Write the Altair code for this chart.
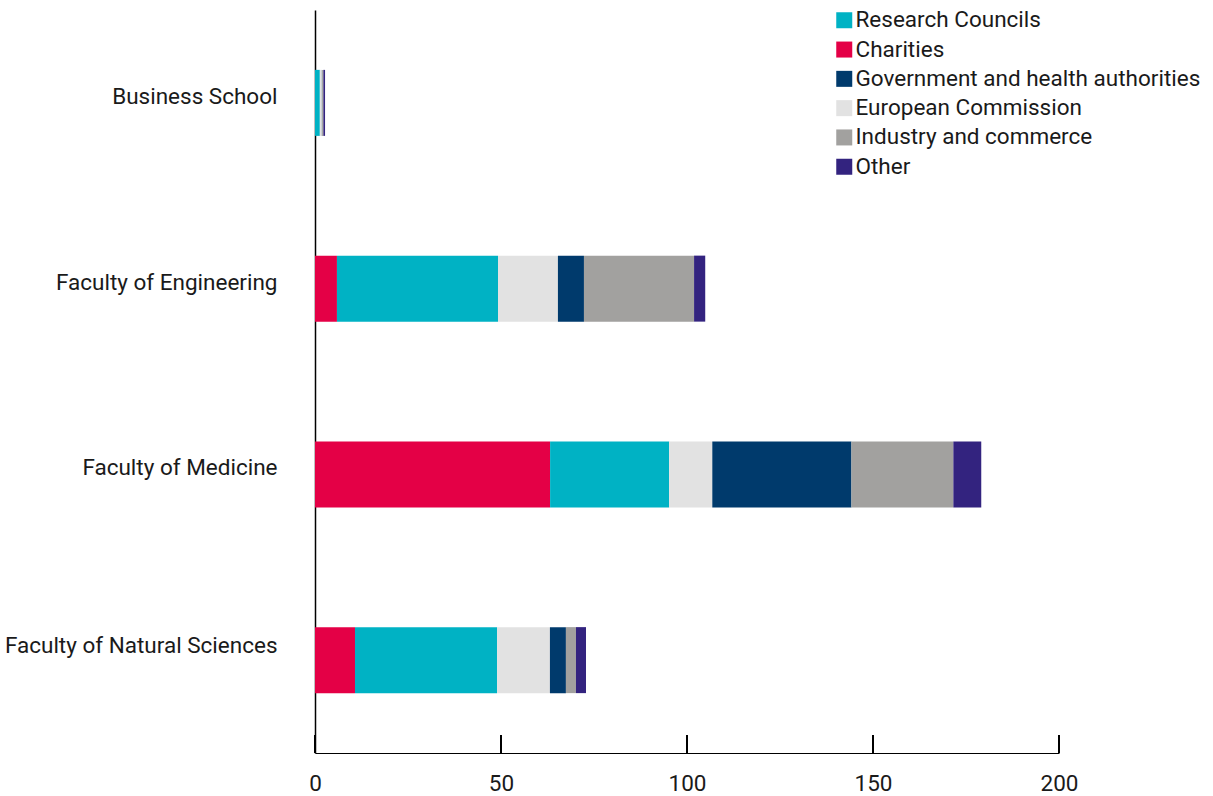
import altair as alt
import pandas as pd

faculties = ["Business School", "Faculty of Engineering", "Faculty of Medicine", "Faculty of Natural Sciences"]
# stack order (left to right)
sources = ["Charities", "Research Councils", "European Commission",
           "Government and health authorities", "Industry and commerce", "Other"]
legend_order = ["Research Councils", "Charities", "Government and health authorities",
                "European Commission", "Industry and commerce", "Other"]
colors = {
    "Research Councils": "#00b2c4",
    "Charities": "#e40046",
    "Government and health authorities": "#003a6c",
    "European Commission": "#e2e2e2",
    "Industry and commerce": "#a2a19f",
    "Other": "#33237f",
}
charities = [0.0, 5.9, 63.2, 10.75]
research_councils = [1.3, 43.3, 32.0, 38.2]
european_commission = [0.55, 16.1, 11.6, 14.2]
government = [0.05, 7.0, 37.4, 4.3]
industry = [0.35, 29.6, 27.4, 2.7]
other = [0.45, 3.0, 7.5, 2.7]
ticks = [0, 50, 100, 150, 200]

series = [charities, research_councils, european_commission, government, industry, other]
rows = []
for si, (src, vals) in enumerate(zip(sources, series)):
    for fac, v in zip(faculties, vals):
        rows.append({"faculty": fac, "source": src, "value": v, "order": si})
df = pd.DataFrame(rows)

FONT = "Roboto"
FS = 22.5
W, H = 744, 743

bars = alt.Chart(df).mark_bar(size=66).encode(
    y=alt.Y("faculty:N", sort=faculties, title=None,
            scale=alt.Scale(paddingInner=0, paddingOuter=0),
            axis=alt.Axis(domain=True, domainColor="#000000", domainWidth=1.5,
                          ticks=False, labelFontSize=FS, labelFont=FONT,
                          labelColor="#1a1a1a", labelPadding=38,
                          labelOffset=alt.ExprRef("datum.value === 'Faculty of Natural Sciences' ? -14 : -6"),
                          labelLimit=400)),
    x=alt.X("value:Q", stack="zero", title=None,
            scale=alt.Scale(domain=[0, 200], nice=False),
            axis=alt.Axis(values=ticks, grid=False, ticks=False, domainColor="#000000",
                          domainWidth=1, labelFontSize=FS, labelFont=FONT,
                          labelColor="#1a1a1a", labelPadding=19, labelFlush=False)),
    color=alt.Color("source:N",
                    scale=alt.Scale(domain=legend_order, range=[colors[s] for s in legend_order]),
                    legend=alt.Legend(title=None, orient="none", legendX=518, legendY=-1,
                                      symbolType="square", symbolSize=256,
                                      symbolStrokeWidth=0, labelFontSize=FS,
                                      labelFont=FONT, labelColor="#1a1a1a",
                                      rowPadding=6.3, labelOffset=0, labelLimit=500)),
    order=alt.Order("order:Q"),
)

tick_df = pd.DataFrame({"t": ticks})
tick_rules = alt.Chart(tick_df).mark_rule(color="#000000", strokeWidth=2).encode(
    x=alt.X("t:Q"),
    y=alt.value(H - 18),
    y2=alt.value(H),
)

chart = alt.layer(bars, tick_rules).properties(
    width=W, height=H,
    background="#ffffff",
    autosize=alt.AutoSizeParams(type="none"),
    padding={"left": 315, "top": 10, "right": 154, "bottom": 43},
).configure_view(stroke="transparent", strokeWidth=0)

chart.save("out.html", embed_options={"renderer": "svg", "actions": False})
